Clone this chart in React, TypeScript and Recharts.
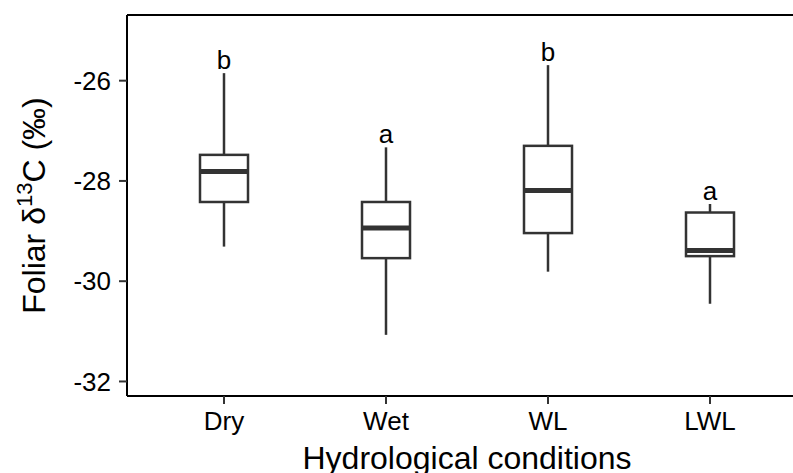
import React from 'react';
import { ComposedChart, Bar, XAxis, YAxis, ReferenceLine, Label } from 'recharts';

const categories = ['Dry', 'Wet', 'WL', 'LWL'];
const lowerWhisker = [-29.31, -31.07, -29.81, -30.45];
const q1 = [-28.42, -29.54, -29.04, -29.5];
const median = [-27.81, -28.94, -28.19, -29.39];
const q3 = [-27.48, -28.42, -27.3, -28.63];
const upperWhisker = [-25.85, -27.33, -25.69, -28.46];
const letters = ['b', 'a', 'b', 'a'];
const yTicks = [-32, -30, -28, -26];
const yDomain = [-32.29, -24.69];

const data = categories.map((c, i) => ({
  cat: c,
  range: [lowerWhisker[i], upperWhisker[i]],
  lower: lowerWhisker[i],
  q1: q1[i],
  median: median[i],
  q3: q3[i],
  upper: upperWhisker[i],
  letter: letters[i],
}));

const FONT = '"Liberation Sans", Arial, Helvetica, sans-serif';
const BOX = '#333333';

const BoxShape = (props: any) => {
  const { x, y, width, height, payload } = props;
  if (!payload) return null;
  const top = Math.min(y, y + height);
  const bottom = Math.max(y, y + height);
  const span = payload.upper - payload.lower;
  const toPx = (v: number) => top + ((payload.upper - v) / span) * (bottom - top);
  const cx = x + width / 2;
  const yq3 = toPx(payload.q3);
  const yq1 = toPx(payload.q1);
  const ymed = toPx(payload.median);
  return (
    <g>
      <line x1={cx} x2={cx} y1={top} y2={yq3} stroke={BOX} strokeWidth={2.5} />
      <line x1={cx} x2={cx} y1={yq1} y2={bottom} stroke={BOX} strokeWidth={2.5} />
      <rect x={x} y={yq3} width={width} height={yq1 - yq3} fill="#fff" stroke={BOX} strokeWidth={2.5} />
      <line x1={x} x2={x + width} y1={ymed} y2={ymed} stroke={BOX} strokeWidth={5} />
      <text x={cx} y={top - 4} textAnchor="middle" fontSize={26} fill="#000" fontFamily={FONT}>
        {payload.letter}
      </text>
    </g>
  );
};

const YTitle = (props: any) => {
  const vb = props.viewBox || {};
  const cx = 45;
  const cy = vb.y + vb.height / 2;
  return (
    <text
      x={cx}
      y={cy}
      transform={`rotate(-90, ${cx}, ${cy})`}
      textAnchor="middle"
      fontSize={32}
      fill="#000"
      fontFamily={FONT}
    >
      <tspan>Foliar δ</tspan>
      <tspan fontSize={22} dy={-13}>13</tspan>
      <tspan dy={13}>C (‰)</tspan>
    </text>
  );
};

const XTitle = (props: any) => {
  const vb = props.viewBox || {};
  return (
    <text
      x={vb.x + vb.width / 2}
      y={vb.y + 73}
      textAnchor="middle"
      fontSize={32}
      fill="#000"
      fontFamily={FONT}
    >
      Hydrological conditions
    </text>
  );
};

export default function App() {
  return (
    <div
      style={{
        position: 'absolute',
        left: 0,
        top: 0,
        width: 793,
        height: 473,
        overflow: 'hidden',
        background: '#fff',
        fontFamily: FONT,
      }}
    >
      <ComposedChart
        width={830}
        height={473}
        data={data}
        margin={{ top: 15, right: 23, left: 0, bottom: 0 }}
      >
        <XAxis
          dataKey="cat"
          type="category"
          padding={{ left: 16, right: 16 }}
          height={77}
          axisLine={{ stroke: '#000', strokeWidth: 2 }}
          tickLine={{ stroke: BOX, strokeWidth: 2 }}
          tickSize={8}
          tickMargin={8}
          tick={{ fontSize: 26, fill: '#000', fontFamily: FONT }}
          interval={0}
        >
          <Label content={<XTitle />} />
        </XAxis>
        <YAxis
          type="number"
          domain={yDomain}
          ticks={yTicks}
          allowDataOverflow
          width={127}
          axisLine={{ stroke: '#000', strokeWidth: 2 }}
          tickLine={{ stroke: BOX, strokeWidth: 2 }}
          tickSize={8}
          tickMargin={8}
          tick={{ fontSize: 26, fill: '#000', fontFamily: FONT }}
        >
          <Label content={<YTitle />} />
        </YAxis>
        <ReferenceLine y={yDomain[1]} stroke="#000" strokeWidth={2} />
        <Bar dataKey="range" barSize={48} shape={<BoxShape />} isAnimationActive={false} />
      </ComposedChart>
    </div>
  );
}
